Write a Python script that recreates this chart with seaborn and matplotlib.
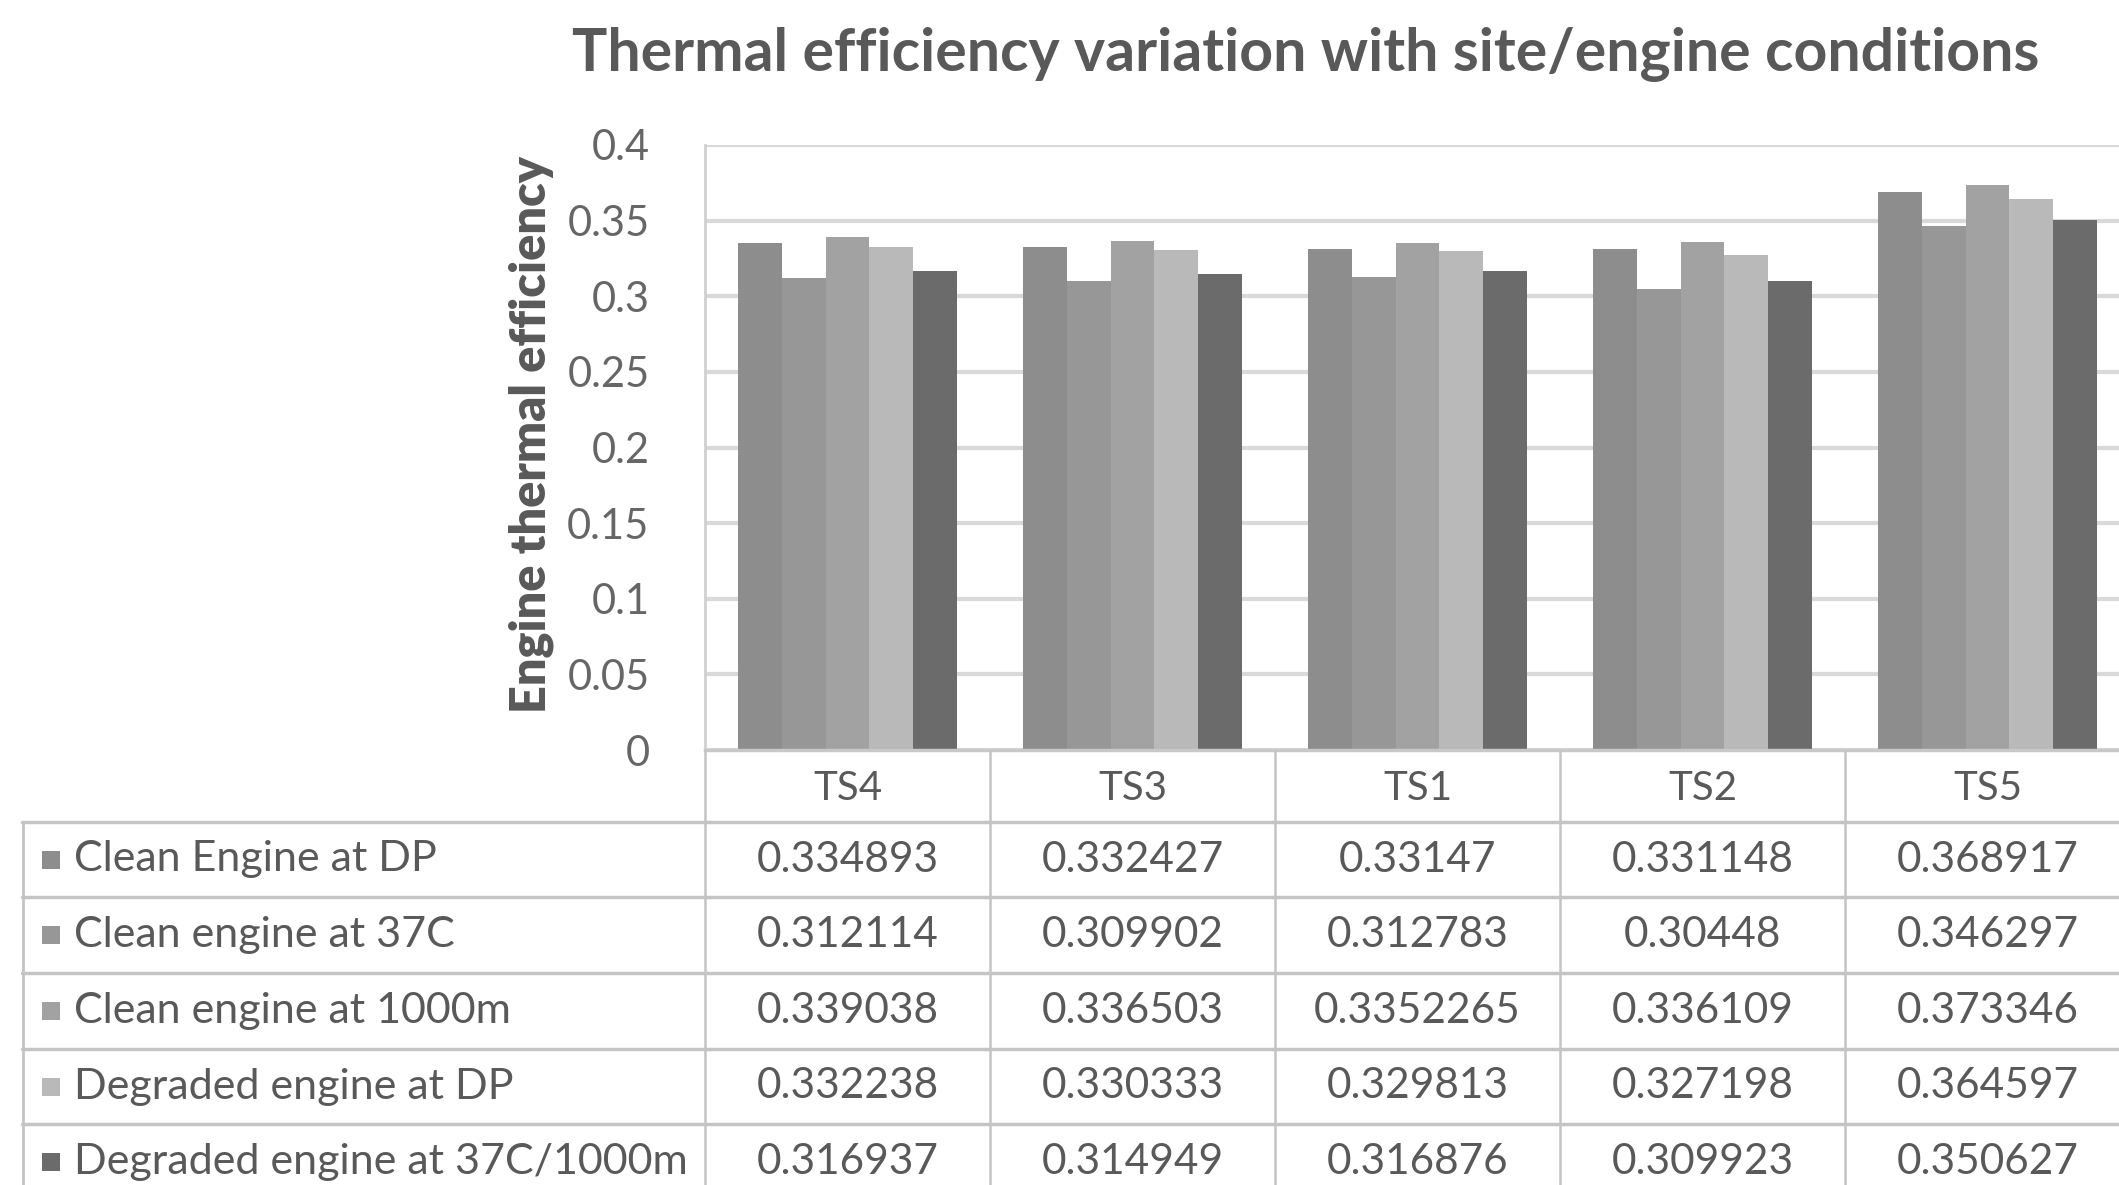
import numpy as np
import pandas as pd
import matplotlib
matplotlib.use("Agg")
import matplotlib.pyplot as plt
import seaborn as sns

categories = ["TS4", "TS3", "TS1", "TS2", "TS5"]
series_names = ["Clean Engine at DP", "Clean engine at 37C", "Clean engine at 1000m",
                "Degraded engine at DP", "Degraded engine at 37C/1000m"]
clean_dp = [0.334893, 0.332427, 0.33147, 0.331148, 0.368917]
clean_37c = [0.312114, 0.309902, 0.312783, 0.30448, 0.346297]
clean_1000m = [0.339038, 0.336503, 0.3352265, 0.336109, 0.373346]
degraded_dp = [0.332238, 0.330333, 0.329813, 0.327198, 0.364597]
degraded_37c_1000m = [0.316937, 0.314949, 0.316876, 0.309923, 0.350627]
value_labels = [
    ["0.334893", "0.332427", "0.33147", "0.331148", "0.368917"],
    ["0.312114", "0.309902", "0.312783", "0.30448", "0.346297"],
    ["0.339038", "0.336503", "0.3352265", "0.336109", "0.373346"],
    ["0.332238", "0.330333", "0.329813", "0.327198", "0.364597"],
    ["0.316937", "0.314949", "0.316876", "0.309923", "0.350627"],
]
y_ticks = [0, 0.05, 0.1, 0.15, 0.2, 0.25, 0.3, 0.35, 0.4]
y_tick_labels = ["0", "0.05", "0.1", "0.15", "0.2", "0.25", "0.3", "0.35", "0.4"]

colors = ["#8d8d8d", "#979797", "#a2a2a2", "#b9b9b9", "#6b6b6b"]
txt = "#595959"

all_series = [clean_dp, clean_37c, clean_1000m, degraded_dp, degraded_37c_1000m]
rows = []
for name, vals in zip(series_names, all_series):
    for c, v in zip(categories, vals):
        rows.append({"cat": c, "series": name, "value": v})
df = pd.DataFrame(rows)

sns.set_theme(style="white")
plt.rcParams['font.family'] = ['Lato', 'DejaVu Sans']

W, H = 2119, 1185
fig = plt.figure(figsize=(W / 100, H / 100), dpi=100)
fig.patch.set_facecolor("white")

ax_left, ax_right, ax_top, ax_bot = 705, 2130, 145, 750
ax = fig.add_axes([ax_left / W, 1 - ax_bot / H, (ax_right - ax_left) / W, (ax_bot - ax_top) / H])
sns.barplot(data=df, x="cat", y="value", hue="series", order=categories,
            hue_order=series_names, palette=colors, width=0.77, saturation=1,
            ax=ax, legend=False, linewidth=0)
ax.set_xlim(-0.5, 4.5)
ax.set_ylim(0, 0.4)
ax.set_yticks(y_ticks)
ax.set_yticklabels(y_tick_labels, fontsize=30, color="#666666")
ax.set_xticks([])
ax.set_xlabel("")
ax.set_ylabel("Engine thermal efficiency", fontsize=35, fontweight="heavy", color=txt)
ax.yaxis.set_label_coords(-0.106, 0.522)
ax.tick_params(axis="y", length=0, pad=40)
ax.grid(axis="y", color="#d9d9d9", linewidth=3)
ax.set_axisbelow(True)
for s in ["top", "right"]:
    ax.spines[s].set_visible(False)
ax.spines["left"].set_color("#d0d0d0")
ax.spines["left"].set_linewidth(2)
ax.spines["bottom"].set_color("#c8c8c8")
ax.spines["bottom"].set_linewidth(2.5)

fig.text(1306 / W, 1 - 54 / H, "Thermal efficiency variation with site/engine conditions",
         ha="center", va="center", fontsize=42.5, fontweight="bold", color=txt)

# data table
unit = (ax_right - ax_left) / 5.0
tab_left = 22
tab_top, tab_bot = 750, 1200
ax_t = fig.add_axes([tab_left / W, 1 - tab_bot / H, (ax_right - tab_left) / W, (tab_bot - tab_top) / H])
x0 = -0.5 - (ax_left - tab_left) / unit
ax_t.set_xlim(x0, 4.5)
ax_t.set_ylim(tab_bot - tab_top, 0)
ax_t.axis("off")
bounds = [0, 72, 147, 223, 299, 374, 450]
lc = "#c4c4c4"
for b in bounds[1:-1]:
    ax_t.plot([x0, 4.5], [b, b], color=lc, lw=2.5, clip_on=False)
for i in range(6):
    xb = -0.5 + i
    ax_t.plot([xb, xb], [0, 450], color=lc, lw=1.8)
ax_t.plot([x0 + 0.004, x0 + 0.004], [bounds[1], 450], color=lc, lw=2)
for i, c in enumerate(categories):
    ax_t.text(i, (bounds[0] + bounds[1]) / 2 + 2, c, ha="center", va="center", fontsize=29, color=txt)
for r, name in enumerate(series_names):
    yc = (bounds[r + 1] + bounds[r + 2]) / 2
    ax_t.scatter([x0 + (51 - tab_left) / unit], [yc], marker="s", s=150, color=colors[r], linewidths=0)
    ax_t.text(x0 + (74 - tab_left) / unit, yc, name, ha="left", va="center", fontsize=31, color=txt)
    for i in range(len(categories)):
        ax_t.text(i, yc, value_labels[r][i], ha="center", va="center", fontsize=30.5, color=txt)

fig.savefig("out.png", dpi=100)
